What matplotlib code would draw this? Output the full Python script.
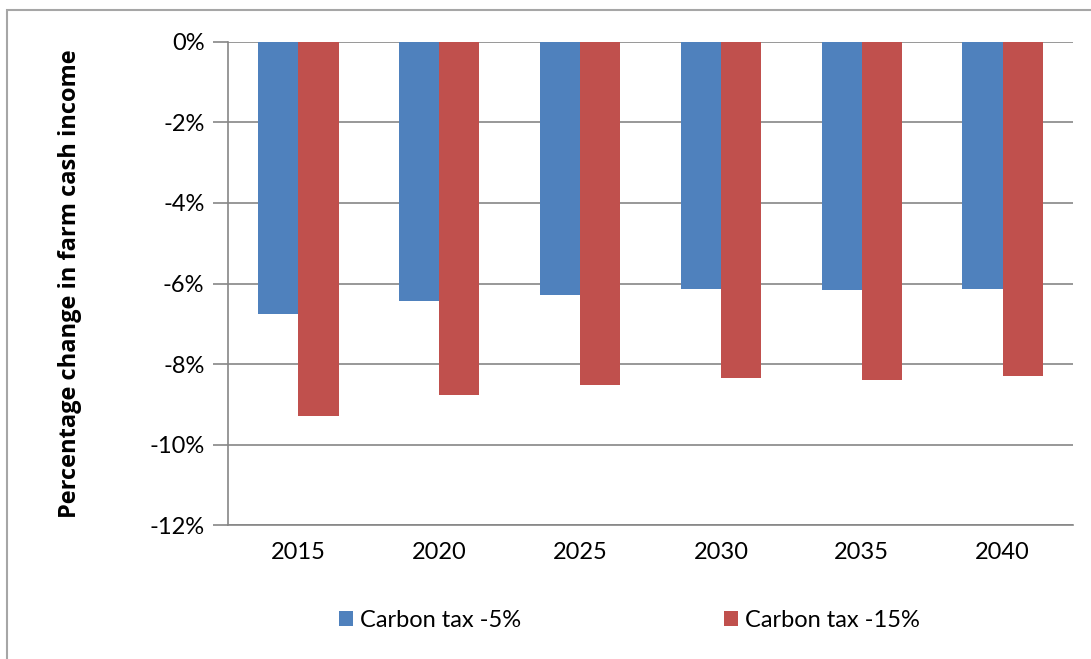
import matplotlib
matplotlib.use('Agg')
import matplotlib.pyplot as plt
import numpy as np
from matplotlib.patches import Rectangle

years = ['2015', '2020', '2025', '2030', '2035', '2040']
tax_5 = [-6.75, -6.44, -6.29, -6.13, -6.17, -6.13]
tax_15 = [-9.28, -8.78, -8.51, -8.34, -8.39, -8.30]
yticks = [0, -2, -4, -6, -8, -10, -12]

blue = '#4F81BD'
red = '#C0504D'
grid_c = '#868686'

plt.rcParams['font.family'] = ['Lato', 'DejaVu Sans']

fig = plt.figure(figsize=(10.91, 6.59), dpi=100)
ax = fig.add_axes([0.209, 0.2033, 0.7745, 0.733])

x = np.arange(len(years))
w = 0.285
ax.bar(x - w / 2, tax_5, w, color=blue, label='Carbon tax -5%', zorder=2)
ax.bar(x + w / 2, tax_15, w, color=red, label='Carbon tax -15%', zorder=2)

ax.set_xlim(-0.5, len(years) - 0.5)
ax.set_ylim(-12, 0)
ax.set_yticks(yticks)
ax.set_yticklabels(['%d%%' % v for v in yticks])
ax.set_xticks(x)
ax.set_xticklabels(years)
ax.yaxis.grid(True, color=grid_c, linewidth=1.2)
ax.set_axisbelow(True)

for s in ['top', 'right']:
    ax.spines[s].set_visible(False)
ax.spines['left'].set_color(grid_c)
ax.spines['bottom'].set_color(grid_c)
ax.spines['left'].set_linewidth(1.2)
ax.spines['bottom'].set_linewidth(1.2)
ax.tick_params(axis='y', length=11, color=grid_c, width=1.2, labelsize=17, pad=6)
ax.tick_params(axis='x', length=0, labelsize=17, pad=12)

ax.set_ylabel('Percentage change in farm cash income', fontsize=17,
              fontweight='bold', family=['Open Sans', 'DejaVu Sans'], labelpad=48)

fig.legend(loc='center', bbox_to_anchor=(0.577, 0.058), ncol=2, frameon=False,
           fontsize=17, handlelength=0.6, handleheight=0.6, handletextpad=0.3,
           columnspacing=8.6)

# outer chart frame, cut off at the right and bottom in the source image
fig.patches.append(Rectangle((7 / 1091, -0.1), 1.2, 1.1 - 10 / 659,
                             transform=fig.transFigure, fill=False,
                             edgecolor='#A6A6A6', linewidth=1.5))

fig.savefig('out.png', dpi=100)
